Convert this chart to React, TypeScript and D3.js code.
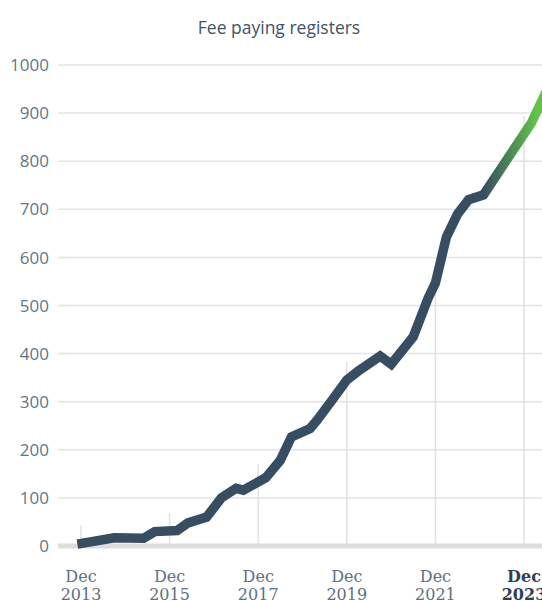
import React from "react";
import * as d3 from "d3";

const title = "Fee paying registers";

// month of each reading and the number of fee paying registers
const months = [
  "2013-11", "2014-09", "2015-05", "2015-08", "2016-02", "2016-05", "2016-10",
  "2017-02", "2017-06", "2017-08", "2018-02", "2018-06", "2018-09", "2019-02",
  "2019-04", "2019-08", "2019-12", "2020-03", "2020-09", "2020-12", "2021-06",
  "2021-10", "2021-12", "2022-03", "2022-06", "2022-09", "2023-01", "2024-02",
  "2024-06",
];
const registers = [
  4, 17, 16, 30, 32, 48, 60,
  100, 120, 116, 142, 178, 227, 244,
  262, 303, 345, 363, 395, 378, 435,
  515, 547, 642, 690, 720, 730, 880,
  945,
];

const yTicks = [0, 100, 200, 300, 400, 500, 600, 700, 800, 900, 1000];
const xTickYears = [2013, 2015, 2017, 2019, 2021, 2023];
const currentYear = 2023;

const W = 542;
const H = 601;

export default function App() {
  const parse = d3.timeParse("%Y-%m");
  const data = months.map((m, i) => ({ date: parse(m) as Date, value: registers[i] }));

  const x = d3
    .scaleTime()
    .domain([new Date(2013, 11, 1), new Date(2023, 11, 1)])
    .range([81, 524]);
  const y = d3.scaleLinear().domain([0, 1000]).range([546, 65]);

  const line = d3
    .line<{ date: Date; value: number }>()
    .x((d) => x(d.date))
    .y((d) => y(d.value));

  // value of the line at a given date, used for the height of the year markers
  const valueAt = (date: Date) => {
    const i = d3.bisector((d: { date: Date }) => d.date).left(data, date);
    if (i <= 0) return data[0].value;
    if (i >= data.length) return data[data.length - 1].value;
    const a = data[i - 1];
    const b = data[i];
    const t = (+date - +a.date) / (+b.date - +a.date);
    return a.value + t * (b.value - a.value);
  };

  const left = 58;

  return (
    <svg
      width={W}
      height={H}
      style={{ position: "absolute", left: 0, top: 0, display: "block", background: "#fff" }}
    >
      <defs>
        <linearGradient id="lineGrad" gradientUnits="userSpaceOnUse" x1={483} x2={536} y1={0} y2={0}>
          <stop offset="0" stopColor="#374d61" />
          <stop offset="1" stopColor="#62c14b" />
        </linearGradient>
      </defs>

      <text
        x={279}
        y={34}
        textAnchor="middle"
        fontFamily="'Open Sans', sans-serif"
        fontSize={17.5}
        fill="#3f5367"
      >
        {title}
      </text>

      {yTicks.map((t) => (
        <g key={t}>
          {t > 0 && (
            <line x1={left} x2={W} y1={y(t)} y2={y(t)} stroke="#e4e4e4" strokeWidth={1.5} />
          )}
          <text
            x={49}
            y={y(t)}
            dy="0.36em"
            textAnchor="end"
            fontFamily="'Open Sans', sans-serif"
            fontSize={17}
            fill="#627588"
          >
            {t}
          </text>
        </g>
      ))}

      {xTickYears.map((yr) => {
        const d = new Date(yr, 11, 1);
        const top = y(valueAt(d)) - 18;
        return (
          <line
            key={yr}
            x1={x(d)}
            x2={x(d)}
            y1={546}
            y2={top}
            stroke="#e2e2e2"
            strokeWidth={1.5}
          />
        );
      })}

      <line x1={left} x2={W} y1={y(0)} y2={y(0)} stroke="#dedcdc" strokeWidth={5} />

      <path
        d={line(data) || ""}
        fill="none"
        stroke="url(#lineGrad)"
        strokeWidth={9.5}
        strokeLinejoin="miter"
      />

      {xTickYears.map((yr) => {
        const d = new Date(yr, 11, 1);
        const bold = yr === currentYear;
        return (
          <text
            key={yr}
            x={x(d)}
            textAnchor="middle"
            fontFamily="'DejaVu Serif', serif"
            fontSize={16}
            fontWeight={bold ? "bold" : "normal"}
            fill={bold ? "#2e4154" : "#5d7083"}
          >
            <tspan x={x(d)} y={582}>Dec</tspan>
            <tspan x={x(d)} y={600}>{yr}</tspan>
          </text>
        );
      })}
    </svg>
  );
}
